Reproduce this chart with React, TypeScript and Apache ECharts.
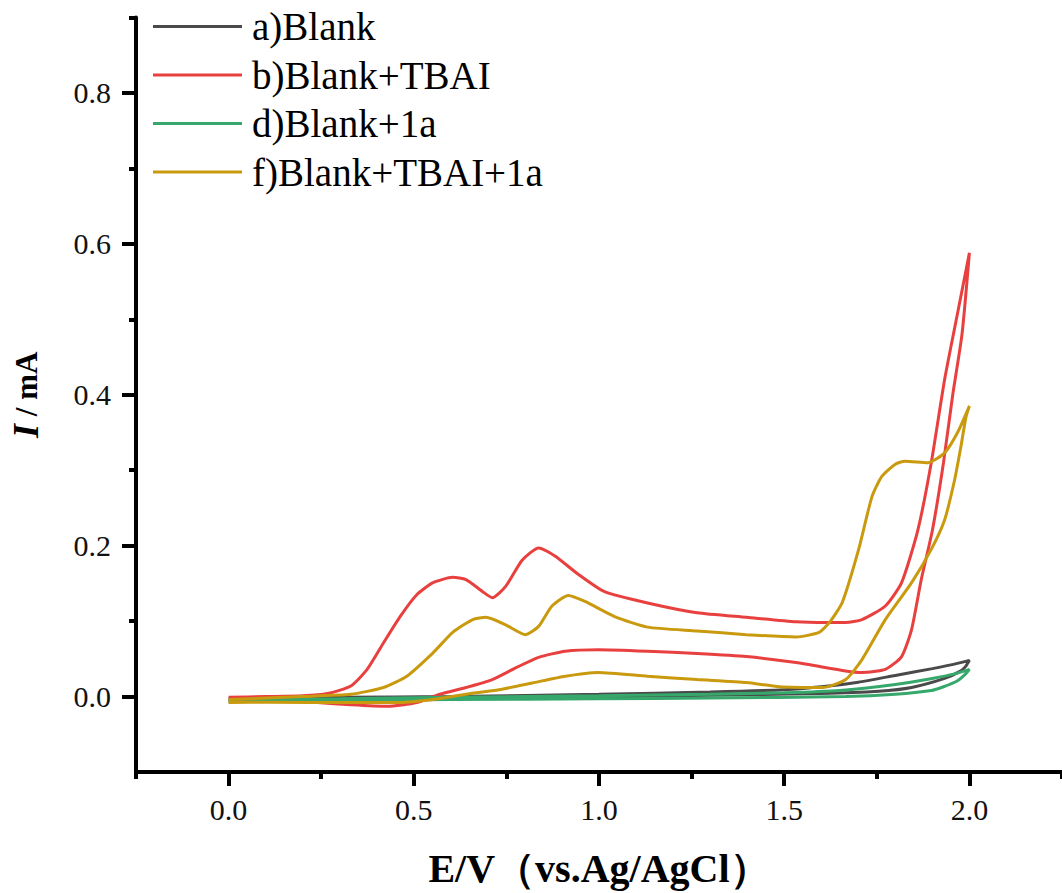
import React, { useEffect, useRef } from "react";
import * as echarts from "echarts";

// a) Blank
const blankE = [0, 0.3, 0.6, 1.0, 1.3, 1.5, 1.62, 1.7, 1.8, 1.9, 1.95, 2.0, 1.99, 1.977, 1.933, 1.844, 1.755, 1.6, 1.2, 0.8, 0.4, 0.0];
const blankI = [-0.003, -0.001, 0.0, 0.003, 0.006, 0.009, 0.014, 0.019, 0.028, 0.037, 0.042, 0.048, 0.04, 0.034, 0.024, 0.012, 0.007, 0.004, 0.001, -0.002, -0.004, -0.006];

// b) Blank+TBAI
const tbaiE = [0, 0.1, 0.2, 0.267, 0.33, 0.374, 0.418, 0.463, 0.508, 0.552, 0.605, 0.641, 0.686, 0.712, 0.748, 0.793, 0.837, 0.882, 0.944, 1.015, 1.131, 1.265, 1.398, 1.532, 1.612, 1.666, 1.71, 1.773, 1.817, 1.861, 1.897, 1.933, 1.968, 2.0,
  1.98, 1.955, 1.93, 1.9, 1.87, 1.844, 1.817, 1.773, 1.71, 1.666, 1.532, 1.398, 1.265, 1.131, 0.998, 0.909, 0.837, 0.775, 0.712, 0.641, 0.57, 0.508, 0.428, 0.33, 0.24, 0.107, 0.0];
const tbaiI = [-0.001, 0.0, 0.001, 0.004, 0.014, 0.036, 0.071, 0.106, 0.135, 0.151, 0.158, 0.155, 0.139, 0.131, 0.146, 0.181, 0.197, 0.186, 0.162, 0.139, 0.124, 0.111, 0.105, 0.099, 0.098, 0.098, 0.102, 0.12, 0.151, 0.221, 0.31, 0.42, 0.508, 0.588,
  0.48, 0.4, 0.31, 0.22, 0.155, 0.089, 0.053, 0.036, 0.032, 0.034, 0.045, 0.053, 0.057, 0.06, 0.062, 0.06, 0.052, 0.038, 0.0225, 0.012, 0.003, -0.008, -0.013, -0.011, -0.008, -0.004, -0.002];

// d) Blank+1a
const oneAE = [0, 0.3, 0.6, 1.0, 1.3, 1.5, 1.65, 1.8, 1.9, 1.96, 2.0, 1.99, 1.968, 1.93, 1.897, 1.8, 1.666, 1.3, 1.0, 0.6, 0.3, 0];
const oneAI = [-0.005, -0.003, -0.001, 0.001, 0.003, 0.005, 0.008, 0.016, 0.024, 0.03, 0.036, 0.03, 0.021, 0.013, 0.008, 0.003, 0.0, -0.002, -0.003, -0.004, -0.005, -0.007];

// f) Blank+TBAI+1a
const tbai1aE = [0, 0.196, 0.33, 0.418, 0.481, 0.552, 0.605, 0.659, 0.695, 0.748, 0.802, 0.837, 0.873, 0.917, 0.962, 1.042, 1.131, 1.265, 1.398, 1.532, 1.594, 1.625, 1.657, 1.701, 1.737, 1.764, 1.8, 1.826, 1.888, 1.933, 1.968, 2.0,
  1.991, 1.977, 1.96, 1.933, 1.897, 1.844, 1.773, 1.71, 1.666, 1.603, 1.487, 1.398, 1.265, 1.131, 0.998, 0.909, 0.82, 0.73, 0.641, 0.552, 0.463, 0.33, 0.107, 0];
const tbai1aI = [-0.004, 0.0, 0.003, 0.012, 0.027, 0.058, 0.085, 0.102, 0.105, 0.095, 0.082, 0.093, 0.12, 0.134, 0.126, 0.106, 0.092, 0.087, 0.082, 0.079, 0.085, 0.1, 0.125, 0.195, 0.265, 0.292, 0.308, 0.312, 0.31, 0.323, 0.35, 0.385,
  0.371, 0.331, 0.287, 0.234, 0.195, 0.151, 0.102, 0.049, 0.0225, 0.012, 0.013, 0.0185, 0.0225, 0.027, 0.032, 0.027, 0.018, 0.009, 0.003, -0.004, -0.008, -0.008, -0.0075, -0.008];

const seriesNames = ["a)Blank", "b)Blank+TBAI", "d)Blank+1a", "f)Blank+TBAI+1a"];
const seriesColors = ["#4a4a4a", "#e8403f", "#37a86c", "#c99a0e"];
const xMajorTicks = [0, 0.5, 1.0, 1.5, 2.0];
const xMinorTicks = [-0.25, 0.25, 0.75, 1.25, 1.75, 2.25];
const yMajorTicks = [0, 0.2, 0.4, 0.6, 0.8];
const yMinorTicks = [0.1, 0.3, 0.5, 0.7, 0.9];

const zip = (xs: number[], ys: number[]) => xs.map((x, i) => [x, ys[i]]);

export default function App() {
  const ref = useRef<HTMLDivElement>(null);
  useEffect(() => {
    if (!ref.current) return;
    const chart = echarts.init(ref.current, undefined, { renderer: "svg" });
    const font = '"Times New Roman", "Liberation Serif", "DejaVu Serif", serif';
    const datasets = [zip(blankE, blankI), zip(tbaiE, tbaiI), zip(oneAE, oneAI), zip(tbai1aE, tbai1aI)];
    const axisLine = { show: true, onZero: false, lineStyle: { color: "#000", width: 4 } };
    chart.setOption({
      animation: false,
      backgroundColor: "#fff",
      textStyle: { fontFamily: font },
      grid: { left: 133, top: 17.5, width: 935, height: 755, containLabel: false },
      legend: {
        orient: "vertical",
        left: 153,
        top: 7,
        padding: 0,
        icon: "rect",
        itemWidth: 89,
        itemHeight: 3,
        itemGap: 9.5,
        data: seriesNames,
        textStyle: { fontFamily: font, fontSize: 39, color: "#000", lineHeight: 39, padding: [0, 0, 0, 5] },
      },
      xAxis: [
        {
          type: "value",
          min: -0.25,
          max: 2.25,
          position: "bottom",
          axisLine,
          splitLine: { show: false },
          axisTick: { show: true, inside: false, length: 14, lineStyle: { width: 4, color: "#000" }, customValues: xMajorTicks },
          axisLabel: {
            customValues: xMajorTicks,
            margin: 22,
            fontFamily: font,
            fontSize: 30,
            color: "#111",
            formatter: (v: number) => v.toFixed(1),
          },
          name: "E/V（vs.Ag/AgCl）",
          nameLocation: "middle",
          nameGap: 76,
          nameTextStyle: { fontFamily: font, fontSize: 40, fontWeight: "bold", color: "#000" },
        },
        {
          type: "value",
          min: -0.25,
          max: 2.25,
          position: "bottom",
          axisLine: { show: false, onZero: false },
          splitLine: { show: false },
          axisTick: { show: true, inside: false, length: 7, lineStyle: { width: 4, color: "#000" }, customValues: xMinorTicks },
          axisLabel: { show: false },
        },
      ],
      yAxis: [
        {
          type: "value",
          min: -0.1,
          max: 0.9,
          position: "left",
          axisLine,
          splitLine: { show: false },
          axisTick: { show: true, inside: false, length: 14, lineStyle: { width: 4, color: "#000" }, customValues: yMajorTicks },
          axisLabel: {
            customValues: yMajorTicks,
            margin: 25,
            fontFamily: font,
            fontSize: 30,
            color: "#111",
            formatter: (v: number) => v.toFixed(1),
          },
          name: "{i|I} / mA",
          nameLocation: "middle",
          nameGap: 92,
          nameRotate: 90,
          nameTextStyle: {
            fontFamily: font,
            fontSize: 31,
            fontWeight: "bold",
            color: "#000",
            rich: { i: { fontFamily: font, fontSize: 36, fontWeight: "bold", fontStyle: "italic", color: "#000" } },
          },
        },
        {
          type: "value",
          min: -0.1,
          max: 0.9,
          position: "left",
          axisLine: { show: false, onZero: false },
          splitLine: { show: false },
          axisTick: { show: true, inside: false, length: 7, lineStyle: { width: 4, color: "#000" }, customValues: yMinorTicks },
          axisLabel: { show: false },
        },
      ],
      series: datasets.map((d, i) => ({
        name: seriesNames[i],
        type: "line",
        xAxisIndex: 0,
        yAxisIndex: 0,
        data: d,
        symbol: "none",
        smooth: 0.2,
        color: seriesColors[i],
        lineStyle: { width: 3, color: seriesColors[i] },
      })),
    });
    return () => chart.dispose();
  }, []);
  return <div ref={ref} style={{ position: "absolute", left: 0, top: 0, width: 1062, height: 893 }} />;
}
